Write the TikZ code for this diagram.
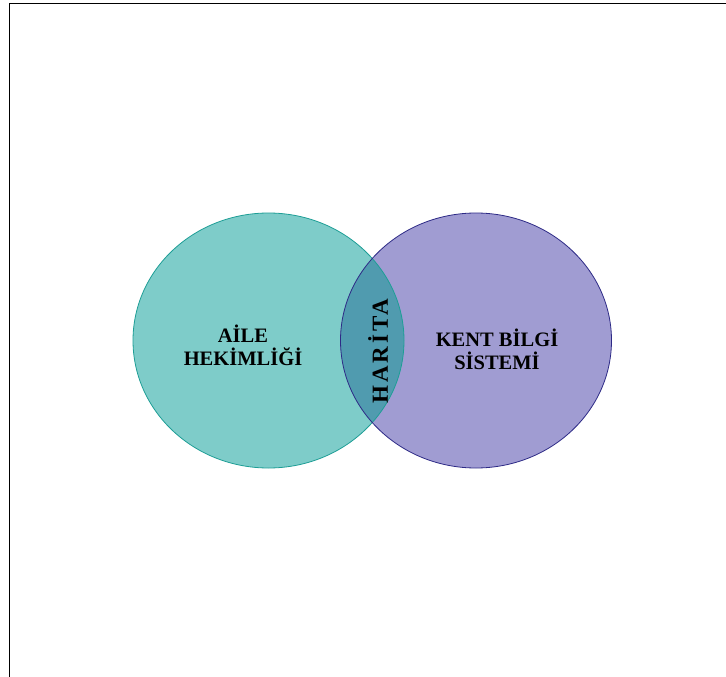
\documentclass[tikz,border=0pt]{standalone}
\usepackage{fontspec}
\setmainfont{Liberation Serif}
\usetikzlibrary{positioning}

\definecolor{ailefill}{RGB}{126,204,201}
\definecolor{ailedraw}{RGB}{30,158,150}
\definecolor{kentfill}{RGB}{160,156,210}
\definecolor{kentdraw}{RGB}{45,42,134}
\definecolor{haritafill}{RGB}{80,155,175}

\tikzset{
  etiket/.style={font=\bfseries\fontsize{20.5}{23}\selectfont, align=center, inner sep=0pt},
}

\begin{document}
\begin{tikzpicture}[x=1pt, y=-1pt]

\clip (0,0) rectangle (726,677);
\fill[white] (0,0) rectangle (726,677);

% cerceve
\draw[line width=1.9pt] (9.5,700) -- (9.5,3.5) -- (760,3.5);

\def\rx{135.5pt}
\def\ry{127.5pt}

% daireler
\fill[ailefill] (268.5,340.5) ellipse [x radius=\rx, y radius=\ry];
\fill[kentfill] (476,340.5) ellipse [x radius=\rx, y radius=\ry];
\begin{scope}
  \clip (268.5,340.5) ellipse [x radius=\rx, y radius=\ry];
  \fill[haritafill] (476,340.5) ellipse [x radius=\rx, y radius=\ry];
\end{scope}
\draw[ailedraw, line width=0.8pt] (268.5,340.5) ellipse [x radius=\rx, y radius=\ry];
\draw[kentdraw, line width=0.8pt] (476,340.5) ellipse [x radius=\rx, y radius=\ry];

% yazilar
\node[etiket] (aile) at (243,345) {AİLE\\HEKİMLİĞİ};
\node[etiket] (kent) at (497,349) {KENT BİLGİ\\SİSTEMİ};
\node[etiket, rotate=90, font=\bfseries\fontsize{23}{26}\selectfont\addfontfeature{LetterSpace=13}] (harita) at (378,351) {HARİTA};

\end{tikzpicture}
\end{document}
